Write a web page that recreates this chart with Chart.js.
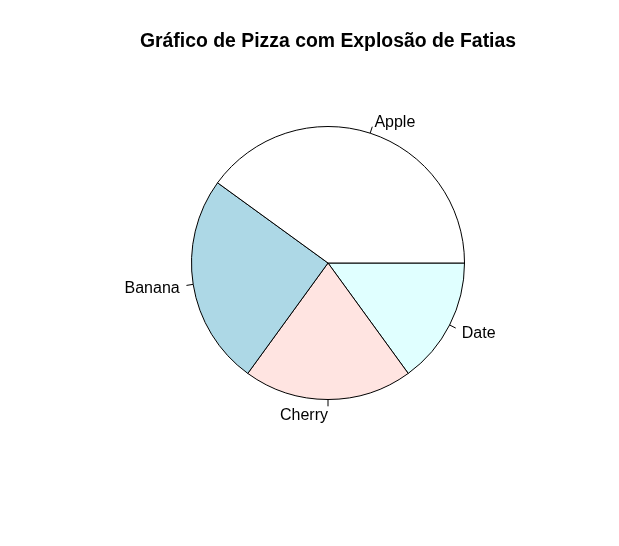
<!DOCTYPE html>
<html><head><meta charset="utf-8">
<script src="https://cdn.jsdelivr.net/npm/chart.js@4"></script>
<style>html,body{margin:0;padding:0;background:#fff;}#wrap{position:absolute;left:37px;top:0;width:582px;height:546px;}</style>
</head><body><div id="wrap"><canvas id="c"></canvas></div>
<script>
// Data in R order (counter-clockwise from 3 o'clock)
const categories = ['Apple', 'Banana', 'Cherry', 'Date'];
const values = [40, 25, 20, 15];
const colors = ['#FFFFFF', '#ADD8E6', '#FFE4E1', '#E0FFFF'];
const titleText = 'Gráfico de Pizza com Explosão de Fatias';

// Chart.js draws clockwise, so reverse to mimic R's counter-clockwise order
const cjLabels = categories.slice().reverse();
const cjValues = values.slice().reverse();
const cjColors = colors.slice().reverse();

const FONT = '"Liberation Sans", Arial, sans-serif';

const labelPlugin = {
  id: 'rlabels',
  afterDatasetsDraw(chart) {
    const ctx = chart.ctx;
    const meta = chart.getDatasetMeta(0);
    ctx.save();
    // title (drawn without width limit)
    ctx.font = 'bold 19.4px ' + FONT;
    ctx.fillStyle = '#000';
    ctx.textAlign = 'center';
    ctx.textBaseline = 'middle';
    ctx.fillText(titleText, (chart.chartArea.left + chart.chartArea.right) / 2, 42);

    ctx.font = '16px ' + FONT;
    ctx.strokeStyle = '#000';
    ctx.lineWidth = 1;
    meta.data.forEach((arc, i) => {
      const p = arc.getProps(['x', 'y', 'startAngle', 'endAngle', 'outerRadius'], true);
      const mid = (p.startAngle + p.endAngle) / 2;
      const c = Math.cos(mid), s = Math.sin(mid);
      const r = p.outerRadius;
      ctx.beginPath();
      ctx.moveTo(p.x + r * c, p.y + r * s);
      ctx.lineTo(p.x + 1.05 * r * c, p.y + 1.05 * r * s);
      ctx.stroke();
      ctx.textAlign = c > 1e-6 ? 'left' : 'right';
      ctx.fillText(chart.data.labels[i], p.x + 1.1 * r * c, p.y + 1.1 * r * s + 2);
    });
    ctx.restore();
  }
};

new Chart(document.getElementById('c'), {
  type: 'pie',
  data: {
    labels: cjLabels,
    datasets: [{
      data: cjValues,
      backgroundColor: cjColors,
      borderColor: '#000',
      borderWidth: 1,
      hoverOffset: 0
    }]
  },
  options: {
    responsive: true,
    maintainAspectRatio: false,
    animation: false,
    rotation: 90,
    layout: { padding: { left: 154, right: 154, top: 126, bottom: 146 } },
    plugins: {
      legend: { display: false },
      tooltip: { enabled: false },
      title: { display: false }
    }
  },
  plugins: [labelPlugin]
});
</script>
</body></html>
